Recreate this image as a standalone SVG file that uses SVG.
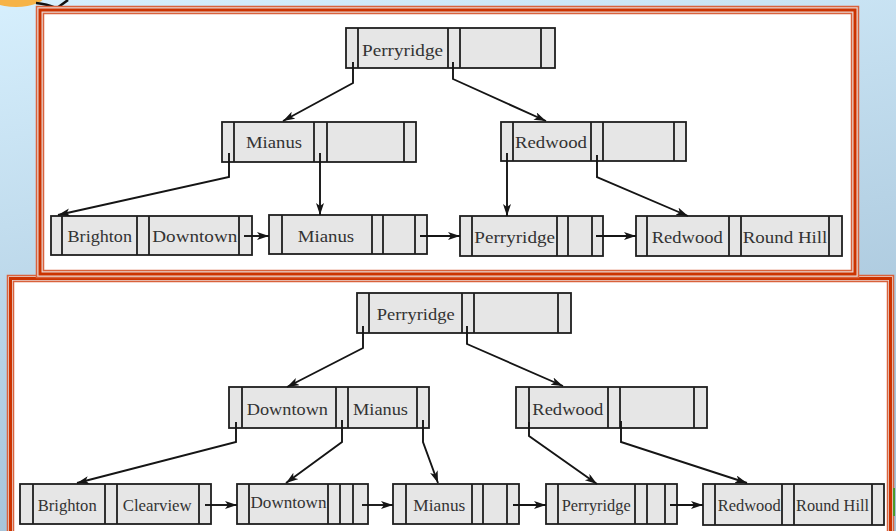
<svg xmlns="http://www.w3.org/2000/svg" width="896" height="531" viewBox="0 0 896 531">
<defs>
<linearGradient id="bg" x1="0" y1="0" x2="0.3" y2="1">
<stop offset="0" stop-color="#d6effd"/>
<stop offset="1" stop-color="#a3c1d7"/>
</linearGradient>
<marker id="ah" markerUnits="userSpaceOnUse" markerWidth="14" markerHeight="10" refX="12" refY="4" orient="auto">
<path d="M0,0 L12,4 L0,8 L3,4 Z" fill="#151515"/>
</marker>
<style>
.frame-o{fill:#e8d6d0;stroke:#d9623c;stroke-width:1.5}
.frame-t{fill:none;stroke:#cc3300;stroke-width:3}
.frame-i{fill:#ffffff;stroke:#d9623c;stroke-width:1.5}
.box{fill:#e6e6e6;stroke:#1e1e1e;stroke-width:1.8}
.div{stroke:#1e1e1e;stroke-width:1.8}
.lbl{font-family:"Liberation Serif","Times New Roman",serif;font-size:17.5px;fill:#333333}
.con path{fill:none;stroke:#151515;stroke-width:1.9;marker-end:url(#ah)}
</style>
</defs>
<rect width="896" height="531" fill="url(#bg)"/>
<ellipse cx="16" cy="-6" rx="30" ry="13" fill="#f6b347"/>
<path d="M36,3 Q47,4 56,8" fill="none" stroke="#111" stroke-width="2.5"/>
<path d="M57,8 L68,0" fill="none" stroke="#111" stroke-width="2.5"/>

<g id="panel-bottom">
<rect class="frame-o" x="7.5" y="275.5" width="886" height="270"/>
<rect class="frame-t" x="10.5" y="278.5" width="880" height="270"/>
<rect class="frame-i" x="13.5" y="281.5" width="874" height="270"/>
</g>
<g id="panel-top">
<rect class="frame-o" x="36.5" y="6.5" width="822" height="271"/>
<rect class="frame-t" x="40" y="10" width="815" height="264"/>
<rect class="frame-i" x="43.5" y="13.5" width="808" height="257"/>
</g>
<rect x="893" y="488" width="2" height="28" fill="#4a9a2a"/>

<g id="t-root">
<rect class="box" x="346" y="28" width="209" height="40"/>
<path class="div" d="M358,28V68M448,28V68M460,28V68M541,28V68"/>
<text class="lbl" x="362" y="56" textLength="81" lengthAdjust="spacingAndGlyphs">Perryridge</text>
</g>
<g id="t-mianus">
<rect class="box" x="222" y="122" width="194" height="40"/>
<path class="div" d="M234,122V162M314,122V162M327,122V162M404,122V162"/>
<text class="lbl" x="246" y="148" textLength="56" lengthAdjust="spacingAndGlyphs">Mianus</text>
</g>
<g id="t-redwood">
<rect class="box" x="501" y="122" width="185" height="39"/>
<path class="div" d="M513,122V161M591,122V161M603,122V161M674,122V161"/>
<text class="lbl" x="515" y="148" textLength="72" lengthAdjust="spacingAndGlyphs">Redwood</text>
</g>
<g id="t-leaf1">
<rect class="box" x="51" y="216" width="201" height="39"/>
<path class="div" d="M62,216V255M137,216V255M149,216V255M239,216V255"/>
<text class="lbl" x="67.5" y="242" textLength="64.5" lengthAdjust="spacingAndGlyphs">Brighton</text>
<text class="lbl" x="152.3" y="242" textLength="85" lengthAdjust="spacingAndGlyphs">Downtown</text>
</g>
<g id="t-leaf2">
<rect class="box" x="269" y="215" width="158" height="39"/>
<path class="div" d="M282,215V254M372,215V254M383,215V254M415,215V254"/>
<text class="lbl" x="297.7" y="241.5" textLength="56.5" lengthAdjust="spacingAndGlyphs">Mianus</text>
</g>
<g id="t-leaf3">
<rect class="box" x="460" y="216" width="143" height="40"/>
<path class="div" d="M472,216V256M557,216V256M568,216V256M592,216V256"/>
<text class="lbl" x="474.3" y="243" textLength="80.7" lengthAdjust="spacingAndGlyphs">Perryridge</text>
</g>
<g id="t-leaf4">
<rect class="box" x="636" y="216" width="206" height="40"/>
<path class="div" d="M647,216V256M729,216V256M741,216V256M829,216V256"/>
<text class="lbl" x="651.7" y="243" textLength="71" lengthAdjust="spacingAndGlyphs">Redwood</text>
<text class="lbl" x="742.7" y="243" textLength="84.7" lengthAdjust="spacingAndGlyphs">Round Hill</text>
</g>

<g id="b-root">
<rect class="box" x="357" y="293" width="214" height="40"/>
<path class="div" d="M369,293V333M462,293V333M474,293V333M558,293V333"/>
<text class="lbl" x="376.7" y="320" textLength="78" lengthAdjust="spacingAndGlyphs">Perryridge</text>
</g>
<g id="b-dm">
<rect class="box" x="229" y="387" width="200" height="41"/>
<path class="div" d="M242,387V428M336,387V428M348,387V428M417,387V428"/>
<text class="lbl" x="246.7" y="415" textLength="81.3" lengthAdjust="spacingAndGlyphs">Downtown</text>
<text class="lbl" x="353" y="415" textLength="55" lengthAdjust="spacingAndGlyphs">Mianus</text>
</g>
<g id="b-redwood">
<rect class="box" x="516" y="387" width="191" height="41"/>
<path class="div" d="M529,387V428M608,387V428M620,387V428M694,387V428"/>
<text class="lbl" x="532.3" y="415" textLength="71" lengthAdjust="spacingAndGlyphs">Redwood</text>
</g>
<g id="b-leaf1">
<rect class="box" x="20" y="484" width="191" height="40"/>
<path class="div" d="M33,484V524M105,484V524M117,484V524M199,484V524"/>
<text class="lbl" x="37.7" y="511" textLength="59" lengthAdjust="spacingAndGlyphs">Brighton</text>
<text class="lbl" x="122.7" y="511" textLength="69" lengthAdjust="spacingAndGlyphs">Clearview</text>
</g>
<g id="b-leaf2">
<rect class="box" x="237" y="484" width="131" height="40"/>
<path class="div" d="M249,484V524M328,484V524M340,484V524M353,484V524"/>
<text class="lbl" x="250.5" y="508" textLength="76" lengthAdjust="spacingAndGlyphs">Downtown</text>
</g>
<g id="b-leaf3">
<rect class="box" x="393" y="484" width="126" height="40"/>
<path class="div" d="M406,484V524M472,484V524M483,484V524M507,484V524"/>
<text class="lbl" x="413.3" y="511" textLength="52" lengthAdjust="spacingAndGlyphs">Mianus</text>
</g>
<g id="b-leaf4">
<rect class="box" x="546" y="484" width="131" height="40"/>
<path class="div" d="M558,484V524M635,484V524M647,484V524M665,484V524"/>
<text class="lbl" x="561.7" y="511" textLength="69" lengthAdjust="spacingAndGlyphs">Perryridge</text>
</g>
<g id="b-leaf5">
<rect class="box" x="703" y="484" width="181" height="41"/>
<path class="div" d="M715,484V525M782,484V525M794,484V525M872,484V525"/>
<text class="lbl" x="717.7" y="511" textLength="63" lengthAdjust="spacingAndGlyphs">Redwood</text>
<text class="lbl" x="796" y="511" textLength="73" lengthAdjust="spacingAndGlyphs">Round Hill</text>
</g>

<g id="connectors" class="con">
<path d="M353,62V83L283,121"/>
<path d="M453,62V79L546,121"/>
<path d="M229,153V177L58,215"/>
<path d="M320,153V215"/>
<path d="M507,153V216"/>
<path d="M597,155V177L688,216"/>
<path d="M244,236H269"/>
<path d="M420,236H460"/>
<path d="M596,236H636"/>
<path d="M363,326V348L287,387"/>
<path d="M467,326V344L563,386"/>
<path d="M236,422V442L77,483"/>
<path d="M342,420V442L286,483"/>
<path d="M423,420V442L438,483"/>
<path d="M529,422V436L597,484"/>
<path d="M621,421V442L747,483"/>
<path d="M205,505H237"/>
<path d="M362,505H393"/>
<path d="M513,505H546"/>
<path d="M670,505H703"/>
</g>
</svg>
